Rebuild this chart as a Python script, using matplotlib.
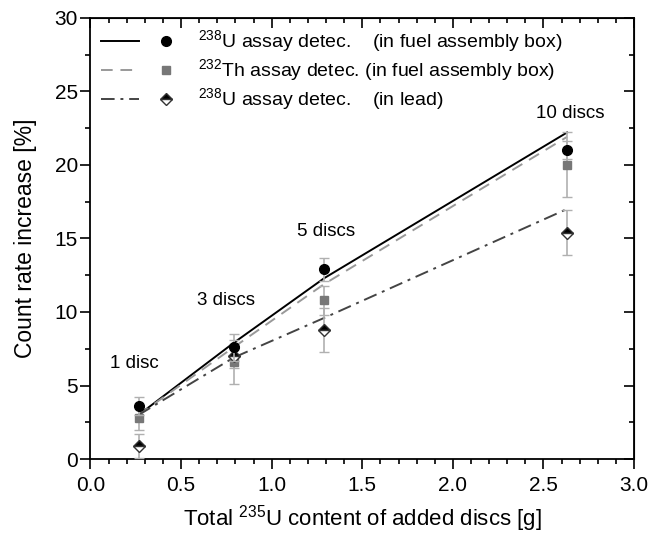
import matplotlib
matplotlib.use("Agg")
import matplotlib.pyplot as plt
from matplotlib.legend_handler import HandlerTuple
from matplotlib.ticker import MultipleLocator

plt.rcParams['font.family'] = ['Liberation Sans', 'DejaVu Sans']
plt.rcParams['mathtext.fontset'] = 'custom'
plt.rcParams['mathtext.rm'] = 'Liberation Sans'

# measured points
mass = [0.265, 0.79, 1.29, 2.63]
u238_box = [3.6, 7.6, 12.9, 21.0]
u238_box_err = [0.6, 0.9, 0.8, 0.6]
th232_box = [2.8, 6.6, 10.8, 20.0]
th232_box_err = [0.8, 1.5, 1.0, 2.2]
u238_lead = [0.9, 7.0, 8.8, 15.4]
u238_lead_err = [0.8, 0.8, 1.5, 1.5]

# simulated curves
fit_u238_box = [3.0, 7.9, 12.3, 22.2]
fit_th232_box = [3.0, 7.6, 11.9, 21.9]
fit_u238_lead = [3.0, 6.9, 9.6, 17.0]

disc_labels = ["1 disc", "3 discs", "5 discs", "10 discs"]
label_x = [0.24, 0.75, 1.30, 2.65]
label_y = [6.5, 10.8, 15.5, 23.5]

fig, ax = plt.subplots(figsize=(6.51, 5.37), dpi=100)
fig.subplots_adjust(left=0.139, right=0.974, top=0.967, bottom=0.145)

err_kw = dict(ecolor='#b0b0b0', elinewidth=1.2, capsize=3.5, capthick=1.0, linestyle='none')

ax.errorbar(mass, th232_box, yerr=th232_box_err, fmt='s', color='#777777', ms=5.5, zorder=3, **err_kw)
ax.errorbar(mass, u238_lead, yerr=u238_lead_err, fmt='D', color='black', mfc='black',
            mfcalt='white', fillstyle='top', mec='#333333', ms=6.5, zorder=3, **err_kw)
ax.errorbar(mass, u238_box, yerr=u238_box_err, fmt='o', color='black', ms=7, zorder=4, **err_kw)

l1, = ax.plot(mass, fit_u238_box, '-', color='black', lw=1.4, zorder=2)
l2, = ax.plot(mass, fit_th232_box, '--', color='#999999', lw=1.4, dashes=(6, 4), zorder=2)
l3, = ax.plot(mass, fit_u238_lead, '-.', color='#444444', lw=1.4, dashes=(7, 3, 1.5, 3), zorder=2)

m1, = ax.plot([], [], 'o', color='black', ms=7)
m2, = ax.plot([], [], 's', color='#777777', ms=5.5)
m3, = ax.plot([], [], 'D', color='black', mfc='black', mfcalt='white', fillstyle='top',
              mec='#333333', ms=6.5)

for t, x, y in zip(disc_labels, label_x, label_y):
    ax.text(x, y, t, ha='center', va='center', fontsize=13.5)

ax.legend([(l1, m1), (l2, m2), (l3, m3)],
          [r"$^{238}$U assay detec.    (in fuel assembly box)",
           r"$^{232}$Th assay detec. (in fuel assembly box)",
           r"$^{238}$U assay detec.    (in lead)"],
          handler_map={tuple: HandlerTuple(ndivide=None, pad=0.37)},
          loc='upper left', frameon=False, fontsize=14, handlelength=4.3,
          handletextpad=0.7, labelspacing=0.12, borderaxespad=0.25, borderpad=0.3)

ax.set_xlim(0, 3.0)
ax.set_ylim(0, 30)
ax.xaxis.set_major_locator(MultipleLocator(0.5))
ax.xaxis.set_minor_locator(MultipleLocator(0.1))
ax.yaxis.set_major_locator(MultipleLocator(5))
ax.yaxis.set_minor_locator(MultipleLocator(2.5))
ax.set_xticklabels([f"{v:.1f}" for v in ax.get_xticks()])
ax.tick_params(axis='both', which='both', direction='out', labelsize=15, width=1.2)
ax.tick_params(which='major', length=7)
ax.tick_params(which='minor', length=3.5)
ax.tick_params(axis='y', pad=2)
ax.tick_params(axis='x', pad=5)
for s in ax.spines.values():
    s.set_linewidth(1.3)

# inward ticks on top and right, like Origin
ax_t = ax.secondary_xaxis('top')
ax_t.xaxis.set_major_locator(MultipleLocator(0.5))
ax_t.xaxis.set_minor_locator(MultipleLocator(0.1))
ax_t.tick_params(which='both', direction='in', labeltop=False, width=1.2)
ax_t.tick_params(which='major', length=7)
ax_t.tick_params(which='minor', length=3.5)
ax_r = ax.secondary_yaxis('right')
ax_r.yaxis.set_major_locator(MultipleLocator(5))
ax_r.yaxis.set_minor_locator(MultipleLocator(2.5))
ax_r.tick_params(which='both', direction='in', labelright=False, width=1.2)
ax_r.tick_params(which='major', length=7)
ax_r.tick_params(which='minor', length=3.5)

ax.set_xlabel(r"Total $^{235}$U content of added discs [g]", fontsize=16, labelpad=6)
ax.set_ylabel("Count rate increase [%]", fontsize=16.5, labelpad=13)

fig.savefig("out.png", dpi=100)
